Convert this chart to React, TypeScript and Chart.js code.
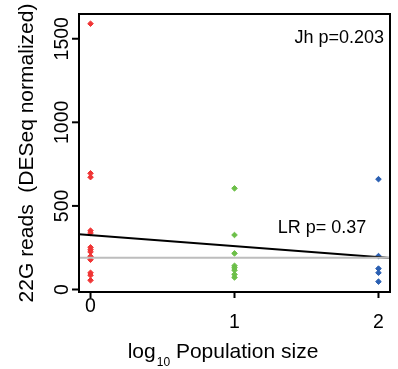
import React, { useEffect, useRef } from "react";
import { Chart, registerables } from "chart.js";

Chart.register(...registerables);

// ---- data ----
const POP_LOG10 = [0, 1, 2];
const RED_VALUES = [1590, 695, 672, 352, 338, 252, 238, 225, 198, 178, 100, 85, 55];
const GREEN_VALUES = [605, 326, 216, 142, 130, 115, 90, 72];
const BLUE_VALUES = [660, 200, 125, 100, 47];
const LR_INTERCEPT = 325;
const LR_SLOPE = -66;
const MEAN_VALUE = 190;
const X_TICKS = [0, 1, 2];
const X_TICK_LABELS = ["0", "1", "2"];
const Y_TICKS = [0, 500, 1000, 1500];
const Y_TICK_LABELS = ["0", "500", "1000", "1500"];
const X_MIN = -0.08;
const X_MAX = 2.08;
const Y_MIN = -15;
const Y_MAX = 1648;
const JH_TEXT = "Jh p=0.203";
const LR_TEXT = "LR p= 0.37";
const Y_TITLE = "22G reads  (DESeq normalized)";
const X_TITLE_A = "log";
const X_TITLE_SUB = "10";
const X_TITLE_B = " Population size";

const FONT = "'Liberation Sans', Arial, Helvetica, sans-serif";

const pts = (x: number, vals: number[]) => vals.map((y) => ({ x, y }));

const axesPlugin = {
  id: "rAxes",
  afterDraw(chart: any) {
    const { ctx, chartArea: a, scales } = chart;
    const xs = scales.x;
    const ys = scales.y;
    ctx.save();
    ctx.strokeStyle = "#000";
    ctx.lineWidth = 2;
    ctx.strokeRect(a.left, a.top, a.right - a.left, a.bottom - a.top);
    ctx.fillStyle = "#000";
    // y ticks
    ctx.font = `19.5px ${FONT}`;
    Y_TICKS.forEach((v, i) => {
      const y = ys.getPixelForValue(v);
      ctx.beginPath();
      ctx.moveTo(a.left, y);
      ctx.lineTo(a.left - 7, y);
      ctx.stroke();
      ctx.save();
      ctx.translate(a.left - 11, y);
      ctx.rotate(-Math.PI / 2);
      ctx.textAlign = "center";
      ctx.textBaseline = "alphabetic";
      ctx.fillText(Y_TICK_LABELS[i], 0, 0);
      ctx.restore();
    });
    // x ticks
    X_TICKS.forEach((v, i) => {
      const x = xs.getPixelForValue(v);
      ctx.beginPath();
      ctx.moveTo(x, a.bottom);
      ctx.lineTo(x, a.bottom + 6);
      ctx.stroke();
      ctx.textAlign = "center";
      ctx.textBaseline = "alphabetic";
      const row = i === 0 ? 0 : 1;
      ctx.fillText(X_TICK_LABELS[i], x, a.bottom + 20 + row * 16);
    });
    // y title
    ctx.save();
    ctx.font = `21px ${FONT}`;
    ctx.translate(33, (a.top + a.bottom) / 2);
    ctx.rotate(-Math.PI / 2);
    ctx.textAlign = "center";
    ctx.fillText(Y_TITLE, 0, 0);
    ctx.restore();
    // x title
    ctx.font = `21px ${FONT}`;
    const wA = ctx.measureText(X_TITLE_A).width;
    const wB = ctx.measureText(X_TITLE_B).width;
    ctx.font = `12px ${FONT}`;
    const wS = ctx.measureText(X_TITLE_SUB).width;
    const total = wA + wS + wB;
    const cx = (a.left + a.right) / 2 - 12;
    let sx = cx - total / 2;
    const base = a.bottom + 66;
    ctx.textAlign = "left";
    ctx.font = `21px ${FONT}`;
    ctx.fillText(X_TITLE_A, sx, base);
    sx += wA;
    ctx.font = `12px ${FONT}`;
    ctx.fillText(X_TITLE_SUB, sx + 1, base + 8);
    sx += wS + 1;
    ctx.font = `21px ${FONT}`;
    ctx.fillText(X_TITLE_B, sx, base);
    // annotations
    ctx.font = `18px ${FONT}`;
    ctx.textAlign = "right";
    ctx.fillText(JH_TEXT, a.right - 6, a.top + 29);
    ctx.textAlign = "left";
    ctx.fillText(LR_TEXT, xs.getPixelForValue(1.3), ys.getPixelForValue(338));
    ctx.restore();
  },
};

export default function App() {
  const ref = useRef<HTMLCanvasElement | null>(null);
  useEffect(() => {
    if (!ref.current) return;
    const pointDs = (vals: number[], x: number, color: string) => ({
      type: "scatter" as const,
      data: pts(x, vals),
      backgroundColor: color,
      borderColor: color,
      pointStyle: "rectRot",
      pointRadius: 2.8,
      pointBorderWidth: 1,
      showLine: false,
    });
    const chart = new Chart(ref.current, {
      type: "scatter",
      data: {
        datasets: [
          {
            type: "line",
            data: [
              { x: X_MIN, y: MEAN_VALUE },
              { x: X_MAX, y: MEAN_VALUE },
            ],
            borderColor: "#bdbdbd",
            borderWidth: 2,
            pointRadius: 0,
            fill: false,
          } as any,
          {
            type: "line",
            data: [
              { x: X_MIN, y: LR_INTERCEPT + LR_SLOPE * X_MIN },
              { x: X_MAX, y: LR_INTERCEPT + LR_SLOPE * X_MAX },
            ],
            borderColor: "#000",
            borderWidth: 2,
            pointRadius: 0,
            fill: false,
          } as any,
          pointDs(RED_VALUES, POP_LOG10[0], "#f03434") as any,
          pointDs(GREEN_VALUES, POP_LOG10[1], "#6cbf48") as any,
          pointDs(BLUE_VALUES, POP_LOG10[2], "#2a5fb2") as any,
        ],
      },
      options: {
        animation: false,
        responsive: false,
        maintainAspectRatio: false,
        layout: { padding: { left: 79, top: 14, right: 8, bottom: 77 } },
        plugins: { legend: { display: false }, tooltip: { enabled: false } },
        scales: {
          x: { type: "linear", min: X_MIN, max: X_MAX, display: false },
          y: { type: "linear", min: Y_MIN, max: Y_MAX, display: false },
        },
      },
      plugins: [axesPlugin],
    });
    return () => chart.destroy();
  }, []);
  return (
    <div style={{ position: "fixed", left: 0, top: 0, width: 398, height: 369, background: "#fff" }}>
      <canvas ref={ref} width={398} height={369} style={{ width: 398, height: 369 }} />
    </div>
  );
}
